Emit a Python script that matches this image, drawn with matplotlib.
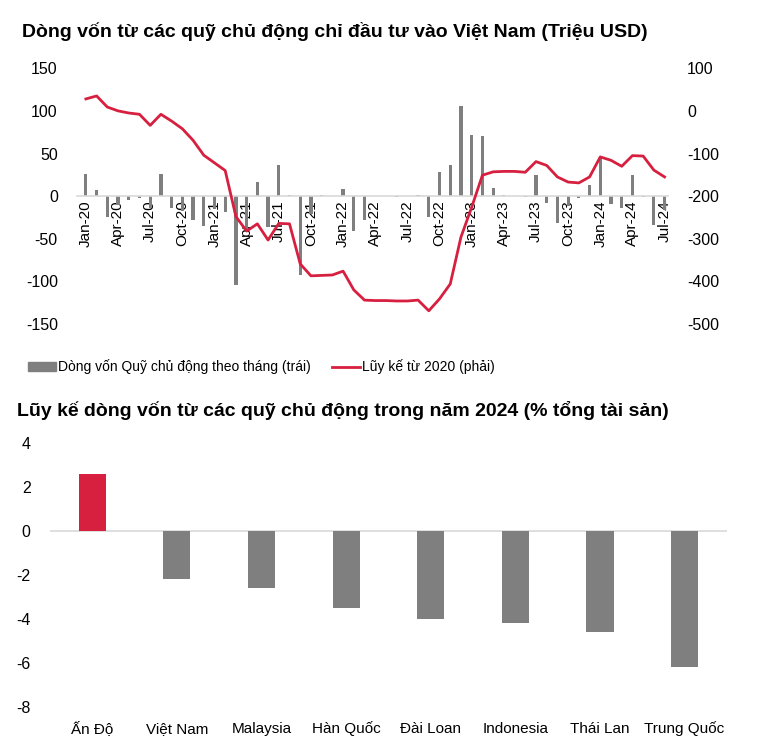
import numpy as np
import matplotlib
matplotlib.use('Agg')
import matplotlib.pyplot as plt
from matplotlib.patches import Patch
from matplotlib.lines import Line2D

plt.rcParams['font.family'] = ['Liberation Sans', 'DejaVu Sans']
plt.rcParams['axes.unicode_minus'] = False

# monthly flows (left axis, triệu USD) Jan-20 .. Jul-24
months = ['Jan-20', 'Feb-20', 'Mar-20', 'Apr-20', 'May-20', 'Jun-20', 'Jul-20', 'Aug-20', 'Sep-20',
          'Oct-20', 'Nov-20', 'Dec-20', 'Jan-21', 'Feb-21', 'Mar-21', 'Apr-21', 'May-21', 'Jun-21',
          'Jul-21', 'Aug-21', 'Sep-21', 'Oct-21', 'Nov-21', 'Dec-21', 'Jan-22', 'Feb-22', 'Mar-22',
          'Apr-22', 'May-22', 'Jun-22', 'Jul-22', 'Aug-22', 'Sep-22', 'Oct-22', 'Nov-22', 'Dec-22',
          'Jan-23', 'Feb-23', 'Mar-23', 'Apr-23', 'May-23', 'Jun-23', 'Jul-23', 'Aug-23', 'Sep-23',
          'Oct-23', 'Nov-23', 'Dec-23', 'Jan-24', 'Feb-24', 'Mar-24', 'Apr-24', 'May-24', 'Jun-24',
          'Jul-24']
monthly_flow = [26, 7, -24, -10, -4, -2, -14, 26, -14,
                -17, -28, -35, -15, -19, -104, -38, 16, -36,
                36, 1, -92, -21, 1, 0, 8, -41, -28,
                0, 0, -1, 0, 1, -25, 28, 36, 106,
                72, 70, 9, 1, 0, -1, 25, -8, -31,
                -11, -2, 13, 45, -9, -14, 25, -1, -34,
                -16]
cumulative = [28, 35, 9, 0, -5, -8, -34, -8, -24,
              -42, -69, -104, -122, -140, -248, -282, -265, -303,
              -264, -265, -359, -387, -386, -385, -376, -420, -444,
              -445, -445, -446, -446, -444, -469, -441, -406, -296,
              -226, -151, -143, -142, -142, -144, -119, -128, -155,
              -167, -169, -155, -108, -116, -130, -105, -106, -139,
              -155]

# 2024 cumulative flows, % of AUM
countries = ['Ấn Độ', 'Việt Nam', 'Malaysia', 'Hàn Quốc', 'Đài Loan', 'Indonesia', 'Thái Lan', 'Trung Quốc']
pct_2024 = [2.6, -2.2, -2.6, -3.5, -4.0, -4.2, -4.6, -6.2]

GREY = '#7f7f7f'
RED = '#d71f3f'
ZERO = '#d9d9d9'

fig = plt.figure(figsize=(7.58, 7.50), dpi=100)

# ---- top chart
ax = fig.add_axes([0.102, 0.568, 0.779, 0.341])
x = np.arange(len(months))
ax.bar(x, monthly_flow, width=0.3, color=GREY, zorder=2)
ax.set_ylim(-150, 150)
ax.set_yticks([-150, -100, -50, 0, 50, 100, 150])
ax.set_xlim(-0.8, 54.3)
for s in ['top', 'right', 'left']:
    ax.spines[s].set_visible(False)
ax.spines['bottom'].set_position(('data', 0))
ax.spines['bottom'].set_color(ZERO)
ax.spines['bottom'].set_linewidth(1.2)

ax2 = ax.twinx()
ax2.plot(x, cumulative, color=RED, lw=2, zorder=3)
ax2.set_ylim(-500, 100)
ax2.set_yticks([-500, -400, -300, -200, -100, 0, 100])
for s in ax2.spines.values():
    s.set_visible(False)
ax2.tick_params(axis='y', length=0, labelsize=11.5, pad=14)

ax.set_xticks(x[::3])
ax.set_xticklabels(months[::3], fontsize=11)
ax.tick_params(axis='x', length=0, pad=3, labelrotation=90)
ax.tick_params(axis='y', length=0, labelsize=11.5, pad=14)

fig.text(0.029, 0.958, 'Dòng vốn từ các quỹ chủ động chỉ đầu tư vào Việt Nam (Triệu USD)',
         fontsize=14, fontweight='bold', va='center', ha='left')

handles = [Patch(color=GREY), Line2D([], [], color=RED, lw=2)]
fig.legend(handles, ['Dòng vốn Quỹ chủ động theo tháng (trái)', 'Lũy kế từ 2020 (phải)'],
           loc='center', bbox_to_anchor=(0.345, 1 - 367 / 750), ncol=2, frameon=False,
           fontsize=10, handlelength=2.0, handleheight=0.7, handletextpad=0.2, columnspacing=1.5)

# ---- bottom chart
fig.text(0.022, 1 - 410 / 750, 'Lũy kế dòng vốn từ các quỹ chủ động trong năm 2024 (% tổng tài sản)',
         fontsize=14, fontweight='bold', va='center', ha='left')

bx = fig.add_axes([0.066, 0.0573, 0.893, 0.352])
cx = np.arange(len(countries))
colors = [RED if v > 0 else GREY for v in pct_2024]
bx.bar(cx, pct_2024, width=0.32, color=colors, zorder=2)
bx.axhline(0, color=ZERO, lw=1.2, zorder=1)
bx.set_ylim(-8, 4)
bx.set_yticks([-8, -6, -4, -2, 0, 2, 4])
bx.set_xlim(-0.5, 7.5)
bx.set_xticks(cx)
bx.set_xticklabels(countries, fontsize=11, va='baseline')
for s in bx.spines.values():
    s.set_visible(False)
bx.tick_params(axis='x', length=0, pad=19)
bx.tick_params(axis='y', length=0, labelsize=11.5, pad=14)

fig.savefig('out.png', dpi=100)
